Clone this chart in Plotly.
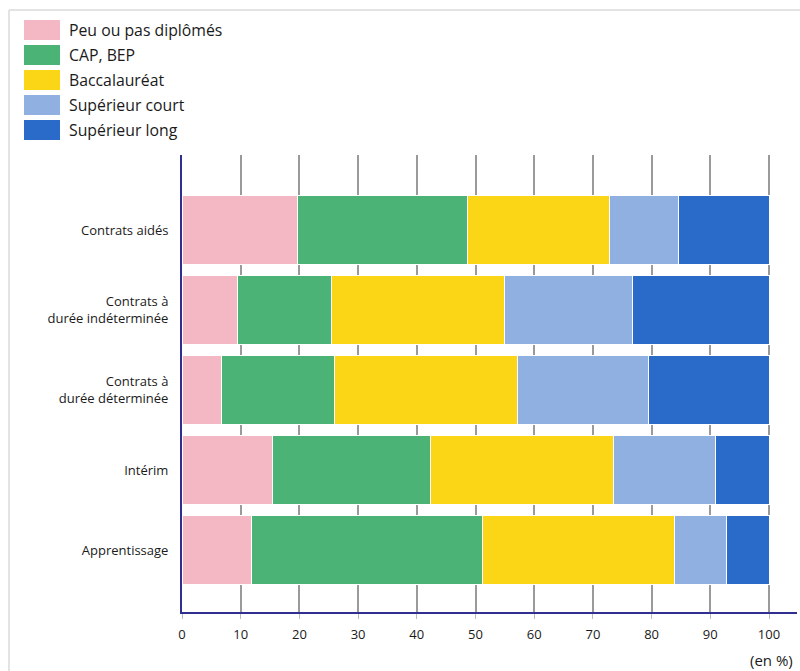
import plotly.graph_objects as go

categories = ["Contrats aidés", "Contrats à<br>durée indéterminée", "Contrats à<br>durée déterminée",
              "Intérim", "Apprentissage"]
series_names = ["Peu ou pas diplômés", "CAP, BEP", "Baccalauréat", "Supérieur court", "Supérieur long"]
peu = [19.6, 9.4, 6.7, 15.5, 11.9]
cap = [29.1, 16.1, 19.3, 26.8, 39.3]
bac = [24.2, 29.5, 31.1, 31.2, 32.7]
sup_court = [11.6, 21.8, 22.3, 17.3, 8.8]
sup_long = [15.5, 23.2, 20.6, 9.2, 7.3]
x_ticks = [0, 10, 20, 30, 40, 50, 60, 70, 80, 90, 100]
unit_label = "(en %)"

colors = ["#f4b8c4", "#4cb377", "#fad616", "#8fb0e0", "#2a6bca"]
values = [peu, cap, bac, sup_court, sup_long]

W, H = 800, 671
L, R, T, B = 182, 3, 155, 59
PW, PH = W - L - R, H - T - B
FONT = "Open Sans, Noto Sans, sans-serif"


def px(xp):
    return (xp - L) / PW


def py(yp):
    return (H - B - yp) / PH


fig = go.Figure()
for name, vals, col in zip(series_names, values, colors):
    fig.add_trace(go.Bar(
        y=categories, x=vals, name=name, orientation="h",
        marker=dict(color=col, line=dict(color="white", width=1)),
        showlegend=False,
    ))

shapes = [
    dict(type="line", xref="paper", yref="paper", x0=px(9), x1=px(800), y0=py(10), y1=py(10),
         line=dict(color="#e3e3e3", width=2), layer="above"),
    dict(type="line", xref="paper", yref="paper", x0=px(9), x1=px(9), y0=py(10), y1=py(671),
         line=dict(color="#e3e3e3", width=2), layer="above"),
]
annotations = []
for i, (name, col) in enumerate(zip(series_names, colors)):
    cy = 30 + 25 * i
    shapes.append(dict(type="rect", xref="paper", yref="paper",
                       x0=px(24), x1=px(60), y0=py(cy - 10), y1=py(cy + 10),
                       fillcolor=col, line=dict(width=0), layer="above"))
    annotations.append(dict(xref="paper", yref="paper", x=px(67), y=py(cy), text=name,
                            showarrow=False, xanchor="left", yanchor="middle",
                            font=dict(family=FONT, size=15.8, color="#1a1a1a")))
annotations.append(dict(xref="paper", yref="paper", x=px(795), y=py(660), text=unit_label,
                        showarrow=False, xanchor="right", yanchor="middle",
                        font=dict(family=FONT, size=15, color="#1a1a1a")))

fig.update_layout(
    width=W, height=H,
    margin=dict(l=L, r=R, t=T, b=B, pad=0),
    barmode="stack", bargap=0.14,
    plot_bgcolor="white", paper_bgcolor="white",
    font=dict(family=FONT, size=13, color="#1a1a1a"),
    shapes=shapes, annotations=annotations,
    xaxis=dict(range=[0, 615 / 5.87], tickvals=x_ticks, ticktext=[str(v) for v in x_ticks],
               showgrid=True, gridcolor="#9a9a9a", gridwidth=1.5,
               showline=True, linecolor="#2e2f8f", linewidth=2,
               ticks="outside", ticklen=5, tickcolor="#bbbbbb", tickwidth=1,
               zeroline=False, tickfont=dict(family=FONT, size=13, color="#1a1a1a"),
               ticklabelstandoff=4),
    yaxis=dict(range=[4.775, -0.9375], showgrid=False,
               showline=True, linecolor="#2e2f8f", linewidth=2,
               ticks="", ticklabelstandoff=9, zeroline=False,
               tickfont=dict(family=FONT, size=13, color="#1a1a1a")),
)

fig.write_html("out.html")
